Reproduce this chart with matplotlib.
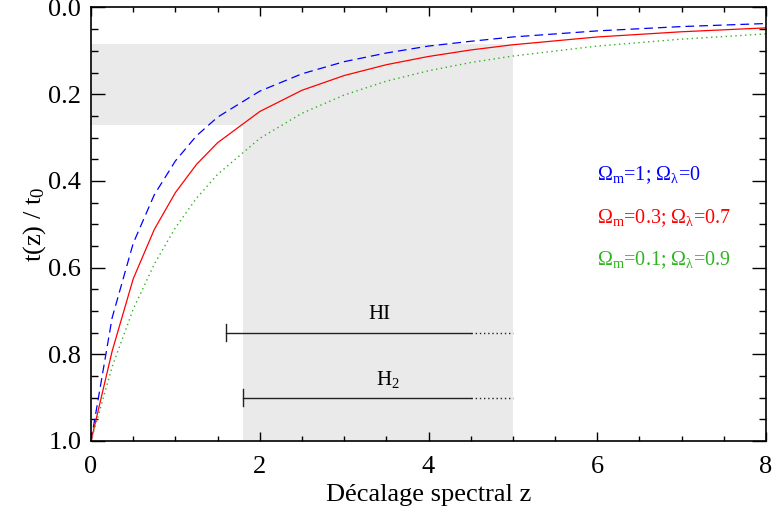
import matplotlib
matplotlib.use('Agg')
import matplotlib.pyplot as plt
from matplotlib.ticker import MultipleLocator

plt.rcParams['font.family'] = ['Liberation Serif', 'DejaVu Serif']
plt.rcParams['mathtext.fontset'] = 'custom'
plt.rcParams['mathtext.rm'] = 'Liberation Serif'
plt.rcParams['mathtext.it'] = 'Liberation Serif'
plt.rcParams['mathtext.default'] = 'regular'

# redshift grid
z = [0, 0.25, 0.5, 0.75, 1.0, 1.25, 1.5, 2.0, 2.5, 3.0, 3.5, 4.0, 4.5, 5.0, 6.0, 7.0, 8.0]
# t(z)/t0 for the three cosmologies
t_eds = [1.0, 0.716, 0.544, 0.432, 0.354, 0.296, 0.253, 0.193, 0.153, 0.125, 0.105,
         0.089, 0.078, 0.068, 0.054, 0.044, 0.037]
t_lcdm = [1.0, 0.793, 0.626, 0.512, 0.427, 0.362, 0.312, 0.240, 0.191, 0.157, 0.132,
          0.113, 0.098, 0.086, 0.068, 0.056, 0.047]
t_open = [1.0, 0.829, 0.696, 0.592, 0.508, 0.440, 0.385, 0.302, 0.244, 0.202, 0.170,
          0.146, 0.127, 0.112, 0.089, 0.073, 0.061]

labels = [r'Ω$_{m}$=1; Ω$_{λ}$=0', r'Ω$_{m}$=0.3; Ω$_{λ}$=0.7', r'Ω$_{m}$=0.1; Ω$_{λ}$=0.9']
colors = ['#0000ff', '#ff0000', '#2db41e']

# shaded zone: redshift window and matching age window
z_lo, z_hi = 1.8, 5.0
t_lo, t_hi = 0.084, 0.27

# observation ranges (start, end of solid part, end of dotted part, level)
hi_range = (1.6, 4.5, 5.0, 0.75)
h2_range = (1.8, 4.5, 5.0, 0.90)

fig = plt.figure(figsize=(7.76, 5.13), dpi=100)
ax = fig.add_axes([0.1173, 0.1404, 0.8698, 0.8450])

ax.fill_between([0, z_hi], t_lo, t_hi, color='#eaeaea', lw=0, zorder=0)
ax.fill_between([z_lo, z_hi], t_hi, 1.0, color='#eaeaea', lw=0, zorder=0)

ax.plot(z, t_eds, color=colors[0], lw=0.9, dashes=(7, 4))
ax.plot(z, t_lcdm, color=colors[1], lw=0.9)
ax.plot(z, t_open, color=colors[2], lw=1.0, dashes=(1, 2.5))

for (z0, z1, z2, yv), name in [(hi_range, 'HI'), (h2_range, 'H$_2$')]:
    ax.plot([z0, z1], [yv, yv], color='#222222', lw=1.0)
    ax.plot([z1, z2], [yv, yv], color='#222222', lw=1.0, dashes=(1, 2))
    ax.plot([z0, z0], [yv - 0.02, yv + 0.02], color='#222222', lw=1.0)
    ax.text((z0 + z2) / 2 + 0.12, yv - 0.042, name, ha='center', va='center', fontsize=15)

for i, (lab, c) in enumerate(zip(labels, colors)):
    ax.text(6.0, 0.388 + 0.098 * i, lab, color=c, fontsize=14.5, ha='left', va='center')

ax.set_xlim(0, 8)
ax.set_ylim(1.0, 0.0)
ax.xaxis.set_major_locator(MultipleLocator(2))
ax.xaxis.set_minor_locator(MultipleLocator(0.5))
ax.yaxis.set_major_locator(MultipleLocator(0.2))
ax.yaxis.set_minor_locator(MultipleLocator(0.05))
ax.set_yticklabels(['%.1f' % v for v in ax.get_yticks()])
ax.tick_params(which='both', direction='in', top=True, right=True, labelsize=19, width=1)
ax.tick_params(axis='x', which='major', length=6.5, pad=11)
ax.tick_params(axis='x', which='minor', length=3.6)
ax.tick_params(axis='y', which='major', length=10, pad=7)
ax.tick_params(axis='y', which='minor', length=5)
for s in ax.spines.values():
    s.set_linewidth(1.2)

ax.set_xlabel('Décalage spectral z', fontsize=19, labelpad=4)
ax.set_ylabel('t(z) / t$_0$', fontsize=19, labelpad=0)

fig.savefig('out.png', dpi=100)
